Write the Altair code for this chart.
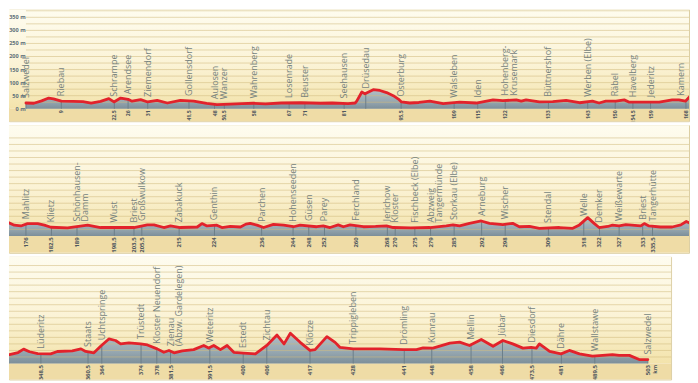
import altair as alt
import pandas as pd
import numpy as np

# ---------------- data ----------------
prof_km = [0, 2, 4, 5.8, 7, 9, 12, 14.5, 16.6, 19, 21.1, 22.4, 24.1, 26, 27, 29.2, 31, 33.4, 36, 39.3,
           42.7, 46, 48.6, 52, 55, 58, 61, 65, 70, 75, 78, 82, 83.8, 84.2, 85.5, 86.3, 88.4, 90.1, 91.8,
           93.5, 94.8, 95.6, 97.7, 100, 102.8, 106.2, 110.4, 114.6, 118.9, 121.4, 124.8, 126.1, 127.3,
           130.7, 134.1, 137.5, 140.9, 144.2, 145.9, 147.6, 150.2, 152.3, 153.6, 157.8, 161.2, 164.5,
           166.2, 167.9, 169.2, 170.3,
           171.4, 173.05, 174.7, 176.4, 179.0, 180.7, 182.35, 186.6, 191.7, 195.0, 199, 203.5, 206.9,
           208.6, 211.1, 212.8, 215.3, 219.6, 220.8, 222.1, 224.6, 225.9, 228.0, 230.6, 232.0, 233.1,
           234.8, 236.5, 239.0, 241.6, 244.1, 245.8, 250.0, 251.7, 253.4, 255.5, 256.8, 258.5, 261.9,
           265, 267.8, 269.5, 274, 278.8, 283.0, 284.7, 286.4, 288.9, 291.9, 294.0, 297.4, 299.9, 301.6,
           304.2, 306.7, 311.8, 315.2, 316.9, 319.0, 320.7, 321.9, 324.1, 325.3, 327.0, 328.7, 332.5,
           333.4, 334.6, 337.5,
           340.5, 342.7, 344.1, 345.6, 347.7, 351.0, 352.7, 356.5, 358.7, 359.9, 362.0, 363.7, 365.8,
           367.5, 368.8, 370.9, 373.9, 375.6, 378.1, 379.8, 381.1, 382.4, 384.5, 387.4, 389.95, 391.2,
           392.5, 394.2, 395.9, 397.6, 400.1, 403.1, 404.3, 406.0, 408.6, 410.4, 412.0, 414.5, 417.0,
           418.3, 421.3, 423.4, 424.6, 428.0, 434.8, 440.7, 444.1, 445.8, 448.3, 452.6, 455.1, 457.6,
           460.6, 463.6, 466.1, 468.6, 471.2, 473.3, 474.6, 475.4, 478.0, 480.9, 483.0, 485.6, 488.9,
           491.5, 494.0, 495.7, 498.3, 500.8, 503.0]
prof_m = [22, 21, 30, 41, 38, 29, 28, 27, 22, 28, 39, 26, 41, 36, 29, 35, 26, 32, 22, 32,
          29, 21, 16, 18, 20, 21, 19, 22, 23, 21, 22, 20, 22, 29, 64, 57, 73, 70, 62,
          50, 37, 26, 22, 24, 29, 20, 25, 22, 34, 31, 34, 29, 34,
          26, 27, 32, 23, 29, 22, 29, 29, 34, 25, 25, 25, 34,
          34, 29, 51, 58,
          52, 41, 38, 47, 47, 41, 33, 31, 41, 32, 32, 32, 42,
          42, 32, 38, 32, 34, 47, 38, 41, 32, 36, 34, 45, 48,
          41, 32, 44, 41, 35, 41, 35, 38, 32, 42, 35, 42, 35,
          36, 38, 32, 31, 32, 38, 42, 38, 48, 57, 48, 43, 48, 35,
          36, 29, 32, 29, 42, 70, 47, 32, 36, 41, 38, 43, 38,
          47, 38, 34,
          34, 42, 55, 45, 38, 37, 46, 48, 56, 46, 41, 66, 94,
          88, 75, 79, 75, 71, 56, 43, 50, 41, 48, 53, 69, 59,
          69, 53, 69, 43, 40, 37, 50, 69, 109, 75, 116, 81, 50,
          53, 103, 81, 62, 56, 56, 53, 53, 60, 59, 78, 82, 69,
          92, 66, 88, 75, 59, 62, 59, 75, 46, 37, 50, 37, 28,
          31, 34, 31, 31, 15, 15]

st_km = [0, 9, 22.5, 26, 31, 41.5, 48, 50.5, 58, 67, 71, 81, 86.5, 95.5, 109, 115, 122, 133, 143, 150,
         154.5, 159, 168,
         176, 182.5, 189, 198.5, 203.5, 205.5, 215, 224, 236, 244, 248, 252, 260, 268, 270, 275, 279,
         285, 292, 298, 309, 318, 322, 327, 333, 335.5,
         348.5, 360.5, 364, 374, 378, 381.5, 391.5, 400, 406, 417, 428, 441, 448, 458, 466, 473.5,
         481, 489.5, 503]
st_name = ["Salzwedel", "Riebau", "Schrampe", "Arendsee", "Ziemendorf", "Gollensdorf", "Aulosen",
           "Wanzer", "Wahrenberg", "Losenrade", "Beuster", "Seehausen", "Drüsedau", "Osterburg",
           "Walsleben", "Iden", "Hohenberg-\nKrusemark", "Büttnershof", "Werben (Elbe)", "Räbel",
           "Havelberg", "Jederitz", "Kamern",
           "Mahlitz", "Klietz", "Schönhausen-\nDamm", "Wust", "Briest", "Großwulkow", "Zabakuck",
           "Genthin", "Parchen", "Hohenseeden", "Güsen", "Parey", "Ferchland", "Jerichow", "Kloster",
           "Fischbeck (Elbe)", "Abzweig\nTangermünde", "Storkau (Elbe)", "Arneburg", "Wischer",
           "Stendal", "Welle", "Demker", "Weißewarte", "Briest", "Tangerhütte",
           "Lüderitz", "Staats", "Uchtspringe", "Trüstedt", "Kloster Neuendorf",
           "Zienau\n(Abzw. Gardelegen)", "Weteritz", "Estedt", "Zichtau", "Klötze", "Trippigleben",
           "Drömling", "Kunrau", "Mellin", "Jübar", "Diesdorf", "Dähre", "Wallstawe", "Salzwedel"]
st_lbl = ["", "9", "22,5", "26", "31", "41,5", "48", "50,5", "58", "67", "71", "81", "", "95,5",
          "109", "115", "122", "133", "143", "150", "154,5", "159", "168",
          "176", "182,5", "189", "198,5", "203,5", "205,5", "215", "224", "236", "244", "248", "252",
          "260", "268", "270", "275", "279", "285", "292", "298", "309", "318", "322", "327", "333",
          "335,5",
          "348,5", "360,5", "364", "374", "378", "381,5", "391,5", "400", "406", "417", "428", "441",
          "448", "458", "466", "473,5", "481", "489,5", "503"]

grid_m = [25, 50, 75, 100, 125, 150, 175, 200, 225, 250, 275, 300, 325, 350, 375]
yaxis_m = [0, 50, 100, 150, 200, 250, 300, 350]
yaxis_lbl = ["0 m", "50 m", "100 m", "150 m", "200 m", "250 m", "300 m", "350 m"]

# ---------------- tables ----------------
prof = pd.DataFrame({"km": prof_km, "m": prof_m})
prof["base"] = 0.0
stations = pd.DataFrame({"km": st_km, "name": st_name, "lbl": st_lbl})
stations["elev"] = np.interp(stations["km"], prof["km"], prof["m"])
stations["base"] = 0.0
grid = pd.DataFrame({"m": grid_m})
yax = pd.DataFrame({"m": yaxis_m, "lbl": yaxis_lbl})
one = pd.DataFrame({"a": [0]})

PX_KM = 3.94
PX_M = 0.262

FONT = "Open Sans"


def make_row(lo, width, height, zero_px, grid_x0=0, yaxis=False, km_size=6):
    hi = lo + width / PX_KM
    ytop = zero_px / PX_M
    ybot = -(height - zero_px) / PX_M
    xs = alt.Scale(domain=[lo, hi], nice=False, zero=False)
    ys = alt.Scale(domain=[ybot, ytop], nice=False, zero=False)
    X = lambda f: alt.X(f, type="quantitative", scale=xs, axis=None)
    Y = lambda f: alt.Y(f, type="quantitative", scale=ys, axis=None)

    p = prof[(prof.km >= lo - 6) & (prof.km <= hi + 6)]
    s = stations[(stations.km >= lo) & (stations.km <= hi)]
    edge = hi - 5 / PX_KM
    s_in = s[s.km < edge]
    s_edge = s[s.km >= edge]

    bg = alt.Chart(one).mark_rect(
        fill=alt.LinearGradient(gradient="linear", x1=0, x2=0, y1=0, y2=1,
                                stops=[alt.GradientStop(color="#fefcef", offset=0),
                                       alt.GradientStop(color="#fbf3d6", offset=0.55),
                                       alt.GradientStop(color="#f3e3ab", offset=1)])
    ).encode(x=alt.value(0), x2=alt.value(width), y=alt.value(0), y2=alt.value(zero_px))

    band = alt.Chart(one).mark_rect(fill="#efdca6").encode(
        x=alt.value(0), x2=alt.value(width), y=alt.value(zero_px), y2=alt.value(height))

    area = alt.Chart(p).mark_area(
        clip=True,
        fill=alt.LinearGradient(gradient="linear", x1=0, x2=0, y1=0, y2=1,
                                stops=[alt.GradientStop(color="#b3c0c6", offset=0),
                                       alt.GradientStop(color="#97a8b1", offset=0.6),
                                       alt.GradientStop(color="#7d8f9a", offset=1)])
    ).encode(x=X("km"), y=Y("m"), y2="base:Q")

    gl = alt.Chart(grid).mark_rule(color="#d2bc7e", opacity=0.55, strokeWidth=1).encode(
        y=Y("m"), x=alt.value(grid_x0), x2=alt.value(width))

    ticks = alt.Chart(s).mark_rule(color="#6c7e89", strokeWidth=1, clip=True).encode(
        x=X("km"), y=Y("base"), y2="elev:Q")

    line = alt.Chart(p).mark_line(color="#e2222b", strokeWidth=2.8, strokeJoin="round",
                                  strokeCap="round", clip=True).encode(x=X("km"), y=Y("m"))

    name_style = dict(angle=270, align="left", dx=5, fontSize=9, font=FONT, color="#76837e",
                      lineBreak="\n", lineHeight=8.5, clip=True)
    names = alt.Chart(s_in).mark_text(baseline="middle", **name_style).encode(
        x=X("km"), y=Y("elev"), text="name:N")

    kms = alt.Chart(s).mark_text(angle=270, align="right", baseline="middle", dx=-1.5,
                                 fontSize=km_size, font=FONT, fontWeight="bold", color="#4f585e",
                                 clip=True).encode(x=X("km"), y=Y("base"), text="lbl:N")

    layers = [bg, band, area, gl, ticks, line, names, kms]

    if len(s_edge):
        layers.append(alt.Chart(s_edge).mark_text(baseline="bottom", **name_style).encode(
            x=X("km"), y=Y("elev"), text="name:N"))

    if yaxis:
        ylab = alt.Chart(yax).mark_text(align="right", baseline="middle", fontSize=5.6,
                                        font=FONT, fontWeight="bold", color="#5e7079",
                                        clip=True).encode(
            x=alt.value(grid_x0 - 0.3), y=Y("m"), text="lbl:N")
        layers.append(ylab)

    if hi > 503:
        kmt = alt.Chart(pd.DataFrame({"km": [503], "base": [0.0], "t": ["km"]})).mark_text(
            angle=270, align="right", baseline="middle", dx=-1.5, dy=7, fontSize=5.5,
            font=FONT, fontWeight="bold", color="#4f585e", clip=True).encode(
            x=X("km"), y=Y("base"), text="t:N")
        layers.append(kmt)

    return alt.layer(*layers).properties(width=width, height=height)


r1 = make_row(-17 / PX_KM, 682, 112, 99.5, grid_x0=17, yaxis=True, km_size=5.2)
r2 = make_row(171.69, 682, 128, 111, km_size=6)
r3 = make_row(340.38, 664, 123, 107, km_size=6)

chart = alt.vconcat(r1, r2, r3, spacing=2).properties(
    padding=0, background="white"
).configure_view(stroke="#dccfa4", strokeWidth=1)

chart.save("out.html", embed_options={"renderer": "svg", "actions": False})
